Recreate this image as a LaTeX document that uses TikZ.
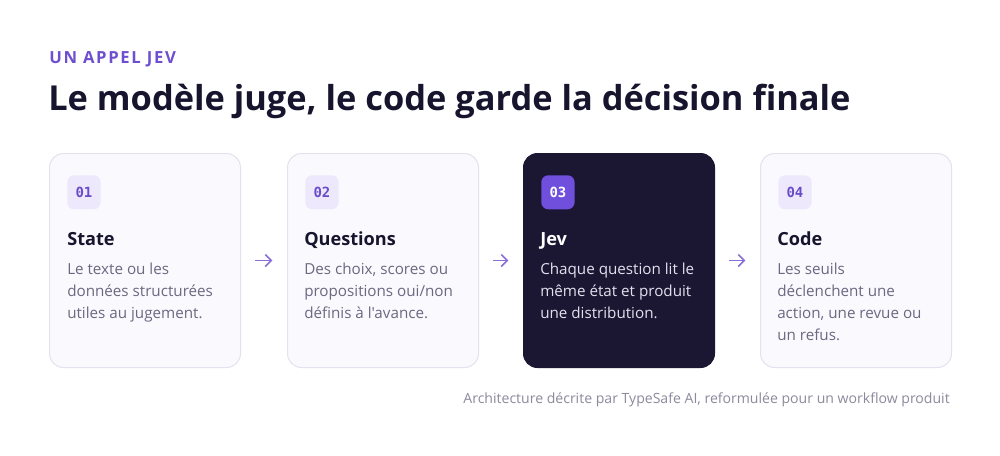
\documentclass[tikz,border=0pt]{standalone}
\usepackage{fontspec}
\setmainfont{Open Sans}[Ligatures=TeXOff]
\newfontfamily\monof{DejaVu Sans Mono}
\usetikzlibrary{arrows.meta}
\definecolor{lblpurple}{HTML}{6E4FD0}
\definecolor{titledark}{HTML}{17152E}
\definecolor{cardfill}{HTML}{FAF9FE}
\definecolor{cardline}{HTML}{E4E2EE}
\definecolor{darkcard}{HTML}{1B1733}
\definecolor{badgelight}{HTML}{EDE8FC}
\definecolor{badgetext}{HTML}{6A4BC9}
\definecolor{badgedark}{HTML}{6F4FDB}
\definecolor{bodygray}{HTML}{6B6880}
\definecolor{darkbody}{HTML}{E2E0EE}
\definecolor{arrowpurple}{HTML}{8A6ED8}
\definecolor{footgray}{HTML}{8C8A9C}
\tikzset{
  card/.style={draw=cardline, line width=0.75pt, fill=cardfill, rounded corners=10.5pt,
    minimum width=143.25pt, minimum height=160.5pt, inner sep=0pt, anchor=north west},
  darkcardbox/.style={card, draw=darkcard, fill=darkcard},
  badge/.style={fill=badgelight, rounded corners=5.25pt, minimum width=25pt, minimum height=25.5pt,
    inner sep=0pt, anchor=north west, text=badgetext, font=\monof\bfseries\fontsize{10.5}{12}\selectfont},
  badgeon/.style={badge, fill=badgedark, text=white},
  heading/.style={anchor=base west, inner sep=0pt, text=titledark, font=\bfseries\fontsize{13.6}{16}\selectfont},
  headon/.style={heading, text=white},
  body/.style={anchor=base west, inner sep=0pt, align=left, text=bodygray, font=\fontsize{11.4}{16.5}\selectfont},
  bodyon/.style={body, text=darkbody},
  arr/.style={draw=arrowpurple, line width=1.15pt, -{Straight Barb[length=4.5pt,width=9pt]}, shorten <=10.5pt, shorten >=11pt},
}
\begin{document}
\begin{tikzpicture}[x=0.75pt,y=-0.75pt]
\useasboundingbox[fill=white] (0,0) rectangle (1000,455);
\node[anchor=base west, inner sep=0pt, text=lblpurple, font=\bfseries\fontsize{12.5}{14}\selectfont\addfontfeatures{LetterSpace=10}] (lbl) at (49,63) {UN APPEL JEV};
\node[anchor=base west, inner sep=0pt, text=titledark, font=\bfseries\fontsize{25.8}{30}\selectfont] (title) at (48,110) {Le modèle juge, le code garde la décision finale};
% cards
\node[card] (c1) at (49,153) {};
\node[card] (c2) at (287,153) {};
\node[darkcardbox] (c3) at (523,153) {};
\node[card] (c4) at (760,153) {};
% badges
\node[badge] (b1) at (67,175) {01};
\node[badge] (b2) at (305,175) {02};
\node[badgeon] (b3) at (541,175) {03};
\node[badge] (b4) at (778,175) {04};
% headings
\node[heading] (h1) at (67,245) {State};
\node[heading] (h2) at (304,245) {Questions};
\node[headon] (h3) at (540,245) {Jev};
\node[heading] (h4) at (777,245) {Code};
% bodies (anchored at the baseline of the last line)
\node[body] (t1) at (67,318) {Le texte ou les\\données structurées\\utiles au jugement.};
\node[body] (t2) at (304,318) {Des choix, scores ou\\propositions oui/non\\définis à l'avance.};
\node[bodyon] (t3) at (540,318) {Chaque question lit le\\même état et produit\\une distribution.};
\node[body] (t4) at (777,340) {Les seuils\\déclenchent une\\action, une revue ou\\un refus.};
% arrows
\draw[arr] (c1) -- (c2);
\draw[arr] (c2) -- (c3);
\draw[arr] (c3) -- (c4);
% footer
\node[anchor=base east, inner sep=0pt, text=footgray, font=\fontsize{10.55}{12}\selectfont] (foot) at (950,403) {Architecture décrite par TypeSafe AI, reformulée pour un workflow produit};
\end{tikzpicture}
\end{document}
